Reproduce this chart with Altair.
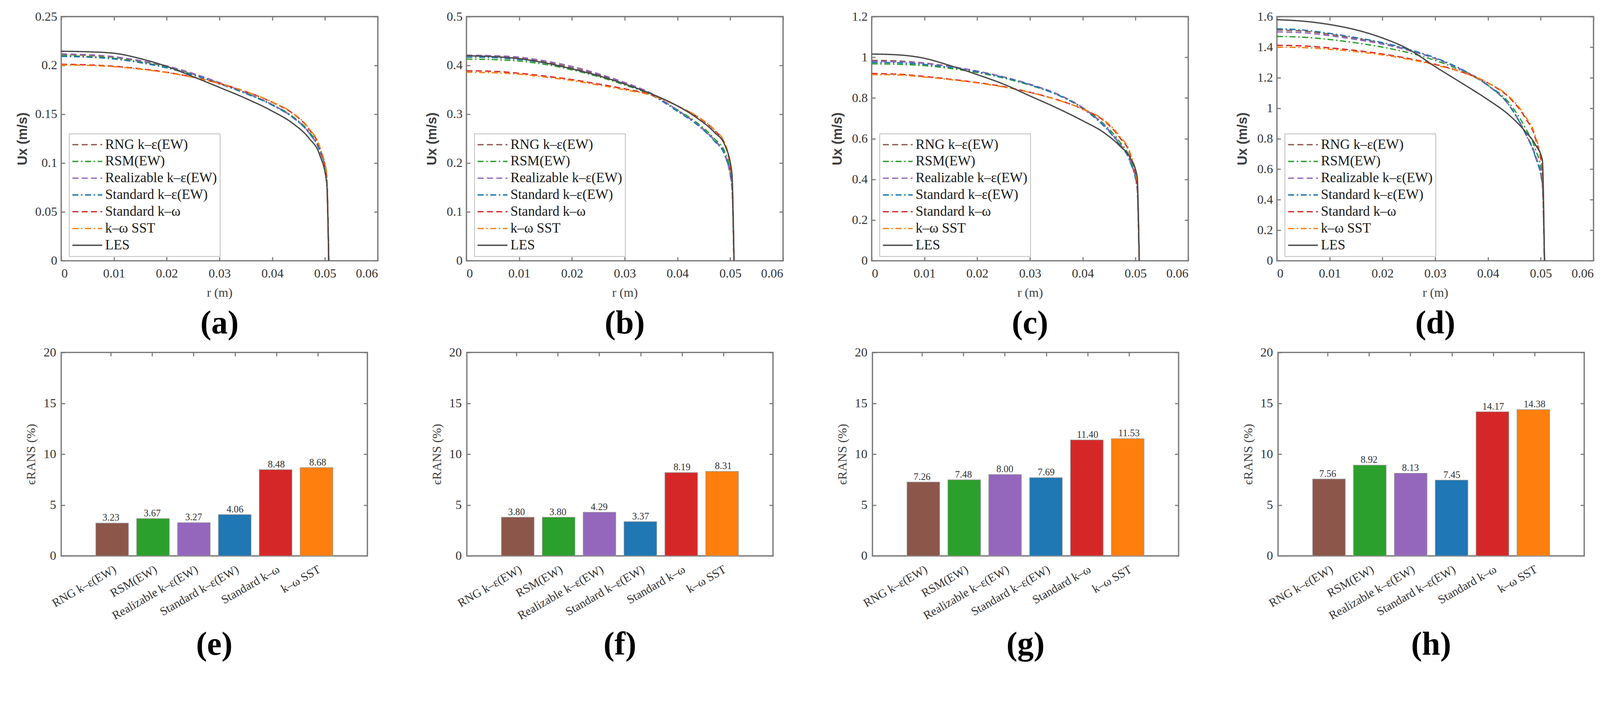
import altair as alt
import pandas as pd

# ---------------- data ----------------
R = [0, 0.005, 0.01, 0.015, 0.02, 0.025, 0.03, 0.035, 0.04, 0.044, 0.047, 0.049, 0.0503, 0.0507]

MODELS = ["RNG k–ε(EW)", "RSM(EW)", "Realizable k–ε(EW)", "Standard k–ε(EW)",
          "Standard k–ω", "k–ω SST", "LES"]
COLORS = ["#8c564b", "#2ca02c", "#9467bd", "#1f77b4", "#d62728", "#ff7f0e", "#4a4a4a"]
DASHES = [[16, 9], [16, 7, 4, 7], [16, 9], [16, 7, 4, 7], [16, 9], [16, 7, 4, 7], [1, 0]]

XTICKS = [0, 0.01, 0.02, 0.03, 0.04, 0.05, 0.06]

ux_a = {
    "RNG k–ε(EW)":        [0.2112, 0.2103, 0.2083, 0.2043, 0.1988, 0.1912, 0.1820, 0.1718, 0.1597, 0.1466, 0.1310, 0.1128, 0.0870, 0],
    "RSM(EW)":            [0.2100, 0.2092, 0.2073, 0.2035, 0.1982, 0.1908, 0.1818, 0.1718, 0.1600, 0.1472, 0.1320, 0.1145, 0.0900, 0],
    "Realizable k–ε(EW)": [0.2118, 0.2110, 0.2090, 0.2050, 0.1995, 0.1918, 0.1824, 0.1720, 0.1597, 0.1464, 0.1306, 0.1122, 0.0860, 0],
    "Standard k–ε(EW)":   [0.2092, 0.2085, 0.2066, 0.2028, 0.1975, 0.1902, 0.1812, 0.1712, 0.1593, 0.1462, 0.1306, 0.1125, 0.0865, 0],
    "Standard k–ω":       [0.2012, 0.2006, 0.1992, 0.1966, 0.1930, 0.1880, 0.1815, 0.1732, 0.1622, 0.1503, 0.1345, 0.1155, 0.0850, 0],
    "k–ω SST":            [0.2005, 0.2000, 0.1987, 0.1962, 0.1927, 0.1878, 0.1814, 0.1733, 0.1625, 0.1508, 0.1352, 0.1165, 0.0870, 0],
    "LES":                [0.2145, 0.2140, 0.2125, 0.2070, 0.1990, 0.1885, 0.1775, 0.1662, 0.1532, 0.1402, 0.1252, 0.1082, 0.0800, 0],
}
ux_b = {
    "RNG k–ε(EW)":        [0.420, 0.419, 0.415, 0.407, 0.395, 0.381, 0.363, 0.342, 0.308, 0.278, 0.247, 0.217, 0.155, 0],
    "RSM(EW)":            [0.413, 0.412, 0.409, 0.402, 0.391, 0.377, 0.360, 0.340, 0.309, 0.280, 0.250, 0.222, 0.165, 0],
    "Realizable k–ε(EW)": [0.421, 0.420, 0.417, 0.409, 0.398, 0.383, 0.365, 0.343, 0.308, 0.277, 0.246, 0.215, 0.150, 0],
    "Standard k–ε(EW)":   [0.417, 0.416, 0.412, 0.405, 0.393, 0.379, 0.362, 0.340, 0.306, 0.276, 0.245, 0.215, 0.155, 0],
    "Standard k–ω":       [0.389, 0.388, 0.384, 0.378, 0.371, 0.362, 0.352, 0.340, 0.317, 0.293, 0.267, 0.238, 0.165, 0],
    "k–ω SST":            [0.386, 0.385, 0.382, 0.376, 0.369, 0.360, 0.350, 0.339, 0.317, 0.294, 0.268, 0.240, 0.170, 0],
    "LES":                [0.420, 0.418, 0.414, 0.405, 0.393, 0.379, 0.362, 0.342, 0.317, 0.290, 0.263, 0.236, 0.180, 0],
}
ux_c = {
    "RNG k–ε(EW)":        [0.985, 0.982, 0.972, 0.955, 0.932, 0.903, 0.866, 0.820, 0.752, 0.668, 0.575, 0.490, 0.370, 0],
    "RSM(EW)":            [0.968, 0.966, 0.959, 0.945, 0.925, 0.898, 0.863, 0.818, 0.752, 0.672, 0.585, 0.500, 0.375, 0],
    "Realizable k–ε(EW)": [0.980, 0.978, 0.970, 0.954, 0.932, 0.904, 0.868, 0.822, 0.752, 0.666, 0.572, 0.486, 0.360, 0],
    "Standard k–ε(EW)":   [0.975, 0.973, 0.965, 0.950, 0.929, 0.901, 0.865, 0.818, 0.748, 0.662, 0.570, 0.485, 0.355, 0],
    "Standard k–ω":       [0.920, 0.917, 0.906, 0.892, 0.876, 0.856, 0.828, 0.793, 0.745, 0.688, 0.606, 0.520, 0.370, 0],
    "k–ω SST":            [0.915, 0.913, 0.903, 0.890, 0.874, 0.854, 0.827, 0.792, 0.746, 0.692, 0.612, 0.528, 0.380, 0],
    "LES":                [1.016, 1.012, 0.995, 0.958, 0.915, 0.868, 0.810, 0.752, 0.688, 0.630, 0.565, 0.505, 0.415, 0],
}
ux_d = {
    "RNG k–ε(EW)":        [1.512, 1.505, 1.484, 1.457, 1.425, 1.381, 1.326, 1.252, 1.148, 1.018, 0.840, 0.680, 0.500, 0],
    "RSM(EW)":            [1.470, 1.465, 1.450, 1.428, 1.400, 1.363, 1.313, 1.245, 1.150, 1.035, 0.875, 0.730, 0.560, 0],
    "Realizable k–ε(EW)": [1.500, 1.494, 1.475, 1.450, 1.420, 1.378, 1.324, 1.251, 1.148, 1.020, 0.845, 0.690, 0.520, 0],
    "Standard k–ε(EW)":   [1.520, 1.512, 1.490, 1.462, 1.430, 1.385, 1.330, 1.255, 1.150, 1.020, 0.840, 0.680, 0.500, 0],
    "Standard k–ω":       [1.412, 1.408, 1.395, 1.378, 1.355, 1.325, 1.287, 1.238, 1.165, 1.070, 0.940, 0.800, 0.590, 0],
    "k–ω SST":            [1.400, 1.397, 1.386, 1.370, 1.349, 1.320, 1.283, 1.236, 1.166, 1.076, 0.950, 0.815, 0.610, 0],
    "LES":                [1.580, 1.570, 1.548, 1.513, 1.460, 1.385, 1.272, 1.165, 1.055, 0.955, 0.850, 0.760, 0.660, 0],
}

YTICKS_A = [0, 0.05, 0.1, 0.15, 0.2, 0.25]
YTICKS_B = [0, 0.1, 0.2, 0.3, 0.4, 0.5]
YTICKS_C = [0, 0.2, 0.4, 0.6, 0.8, 1, 1.2]
YTICKS_D = [0, 0.2, 0.4, 0.6, 0.8, 1, 1.2, 1.4, 1.6]

BAR_MODELS = MODELS[:6]
BAR_POS = [1, 2, 3, 4, 5, 6]
err_e = [3.23, 3.67, 3.27, 4.06, 8.48, 8.68]
err_f = [3.80, 3.80, 4.29, 3.37, 8.19, 8.31]
err_g = [7.26, 7.48, 8.00, 7.69, 11.40, 11.53]
err_h = [7.56, 8.92, 8.13, 7.45, 14.17, 14.38]
BAR_YTICKS = [0, 5, 10, 15, 20]

# ---------------- styling ----------------
SERIF = "Liberation Serif"
TW, TH = 850, 655          # curve panels
BW, BH = 822, 546          # bar panels
TICK = 10
GRAY = "#7a7a7a"

LABEL_EXPR = " : ".join(f"datum.value == {p} ? '{n}'" for p, n in zip(BAR_POS, BAR_MODELS)) + " : ''"


def panel_title(txt, off):
    return alt.TitleParams(text=txt, orient="bottom", anchor="middle", fontSize=88,
                           font=SERIF, fontWeight="bold", color="black",
                           offset=off, baseline="top")


def curve_panel(ux, ymax, yticks, letter, title_x):
    rows = []
    for m in MODELS:
        for r, u in zip(R, ux[m]):
            rows.append({"model": m, "r": r, "u": u})
    df = pd.DataFrame(rows)
    xs = alt.Scale(domain=[0, 0.06], nice=False, zero=False)
    ys = alt.Scale(domain=[0, ymax], nice=False)
    leg = alt.Legend(title=None, orient="none", legendX=21, legendY=314,
                     symbolType="stroke", symbolSize=6400, symbolStrokeWidth=3.5,
                     clipHeight=45, rowPadding=0, labelFontSize=37, labelFont=SERIF,
                     labelColor="#1a1a1a", labelOffset=6, labelLimit=600,
                     strokeColor=GRAY, fillColor="white", padding=7)
    lines = alt.Chart(df).mark_line(strokeWidth=3.5, interpolate="monotone", clip=True).encode(
        x=alt.X("r:Q", scale=xs,
                axis=alt.Axis(values=XTICKS, format="~g", title="r (m)", offset=-TICK,
                              tickSize=TICK, labelPadding=18, titlePadding=17)),
        y=alt.Y("u:Q", scale=ys,
                axis=alt.Axis(values=yticks, format="~g", title="Ux (m/s)", offset=-TICK,
                              tickSize=TICK, labelPadding=11, titleX=title_x,
                              titleBaseline="middle", titleFont="Liberation Sans",
                              titleFontSize=36, titleFontWeight="bold", titleColor="#404040")),
        color=alt.Color("model:N", scale=alt.Scale(domain=MODELS, range=COLORS), legend=leg),
        strokeDash=alt.StrokeDash("model:N", scale=alt.Scale(domain=MODELS, range=DASHES), legend=leg),
    )
    mirror = alt.Chart(df).mark_line(strokeOpacity=0).encode(
        x=alt.X("r:Q", scale=xs,
                axis=alt.Axis(orient="top", values=XTICKS, labels=False, title=None,
                              offset=-TICK, tickSize=TICK, minExtent=0, maxExtent=0)),
        y=alt.Y("u:Q", scale=ys,
                axis=alt.Axis(orient="right", values=yticks, labels=False, title=None,
                              offset=-TICK, tickSize=TICK, minExtent=0, maxExtent=0)),
        detail="model:N",
    )
    return alt.layer(lines, mirror).resolve_scale(x="independent", y="independent").properties(
        width=TW, height=TH, title=panel_title(letter, 22))


def bar_panel(err, letter):
    df = pd.DataFrame({"model": BAR_MODELS, "pos": BAR_POS, "err": err})
    bx = alt.Scale(domain=[-0.2, 7.2], nice=False, zero=False)
    by = alt.Scale(domain=[0, 20], nice=False)
    bars = alt.Chart(df).transform_calculate(
        x0="datum.pos - 0.4", x1="datum.pos + 0.4"
    ).mark_bar(stroke="#9a9a9a", strokeWidth=1.5, orient="vertical").encode(
        x=alt.X("x0:Q", scale=bx,
                axis=alt.Axis(values=BAR_POS, labelExpr=LABEL_EXPR, labelAngle=330,
                              labelAlign="right", labelBaseline="top", labelPadding=20,
                              labelFontSize=32, labelLimit=700, labelOverlap=False,
                              offset=-TICK, tickSize=TICK, title=None)),
        x2="x1:Q",
        y=alt.Y("err:Q", scale=by,
                axis=alt.Axis(values=BAR_YTICKS, title="ϵRANS (%)", offset=-TICK,
                              tickSize=TICK, labelPadding=14, titleX=-90,
                              titleBaseline="middle", minExtent=152, maxExtent=200)),
        y2=alt.datum(0),
        color=alt.Color("model:N", scale=alt.Scale(domain=BAR_MODELS, range=COLORS[:6]), legend=None),
    )
    text = alt.Chart(df).mark_text(dy=-14, fontSize=26, font=SERIF, color="#333333").encode(
        x=alt.X("pos:Q", scale=bx, axis=None),
        y=alt.Y("err:Q", scale=by, axis=None),
        text=alt.Text("err:Q", format=".2f"),
    )
    mirror = alt.Chart(df).mark_point(opacity=0).encode(
        x=alt.X("pos:Q", scale=bx,
                axis=alt.Axis(orient="top", values=BAR_POS, labels=False, title=None,
                              offset=-TICK, tickSize=TICK, minExtent=0, maxExtent=0)),
        y=alt.Y("err:Q", scale=by,
                axis=alt.Axis(orient="right", values=BAR_YTICKS, labels=False, title=None,
                              offset=-TICK, tickSize=TICK, minExtent=0, maxExtent=0)),
    )
    return alt.layer(bars, text, mirror).resolve_scale(x="independent", y="independent").properties(
        width=BW, height=BH, title=panel_title(letter, 18))


top = alt.hconcat(
    curve_panel(ux_a, 0.25, YTICKS_A, "(a)", -114),
    curve_panel(ux_b, 0.5, YTICKS_B, "(b)", -102),
    curve_panel(ux_c, 1.2, YTICKS_C, "(c)", -102),
    curve_panel(ux_d, 1.6, YTICKS_D, "(d)", -102),
    spacing=238, bounds="flush",
).resolve_scale(color="independent", strokeDash="independent").resolve_legend(
    color="independent", strokeDash="independent")

bottom = alt.hconcat(
    bar_panel(err_e, "(e)"),
    bar_panel(err_f, "(f)"),
    bar_panel(err_g, "(g)"),
    bar_panel(err_h, "(h)"),
    spacing=267, bounds="flush",
)

chart = alt.vconcat(top, bottom, spacing=12).resolve_scale(
    color="independent", strokeDash="independent").resolve_legend(
    color="independent", strokeDash="independent").properties(
    padding={"left": 12, "top": -25, "right": 5, "bottom": 5}, background="white"
).configure_view(stroke=GRAY, strokeWidth=3.5).configure_axis(
    labelFont=SERIF, labelFontSize=34, labelColor="#333333", tickColor=GRAY, tickWidth=3,
    domain=False, grid=False, titleFont=SERIF, titleFontSize=34, titleColor="#404040",
    titleFontWeight="normal"
)

chart.save("out.html", embed_options={"renderer": "svg", "actions": False})
